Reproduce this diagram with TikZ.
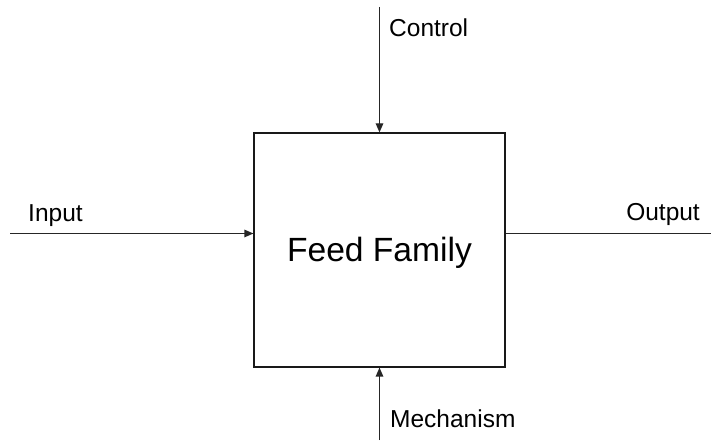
\documentclass[tikz,border=0pt]{standalone}
\usepackage{fontspec}
\setmainfont{Liberation Sans}
\usetikzlibrary{arrows.meta}
\begin{document}
\begin{tikzpicture}[x=1pt,y=-1pt,
  wire/.style={line width=1.2pt,draw=black!85},
  flow/.style={wire,-{Triangle[length=9pt,width=7.5pt]}},
  funcbox/.style={draw=black!90,line width=1.2pt,minimum width=251pt,minimum height=234pt,inner sep=0pt},
  lbl/.style={inner sep=0pt,font=\fontsize{24.5}{29}\selectfont},
  title/.style={inner sep=0pt,font=\fontsize{33.6}{40}\selectfont}]
  \useasboundingbox (0,0) rectangle (712,443);
  \fill[white] (0,0) rectangle (712,443);

  % the activity box
  \node[funcbox] (ff) at (379.5,250) {};
  \node[title,anchor=base] (fftext) at (379.5,262) {Feed Family};

  % free ends of the ICOM arrows
  \coordinate (ctl) at (379.5,7);
  \coordinate (mech) at (379.5,440);
  \coordinate (inp) at (10,233.5);
  \coordinate (outp) at (711,233.5);

  \draw[flow] (ctl) -- (ctl |- ff.north);
  \draw[flow] (mech) -- (mech |- ff.south);
  \draw[flow] (inp) -- (inp -| ff.west);
  \draw[wire] (outp -| ff.east) -- (outp);

  % labels
  \node[lbl,anchor=base west] (ctltext) at (389,37) {Control};
  \node[lbl,anchor=base west] (inptext) at (28,222) {Input};
  \node[lbl,anchor=base east] (outtext) at (700,221) {Output};
  \node[lbl,anchor=base west] (mechtext) at (390,428) {Mechanism};
\end{tikzpicture}
\end{document}
